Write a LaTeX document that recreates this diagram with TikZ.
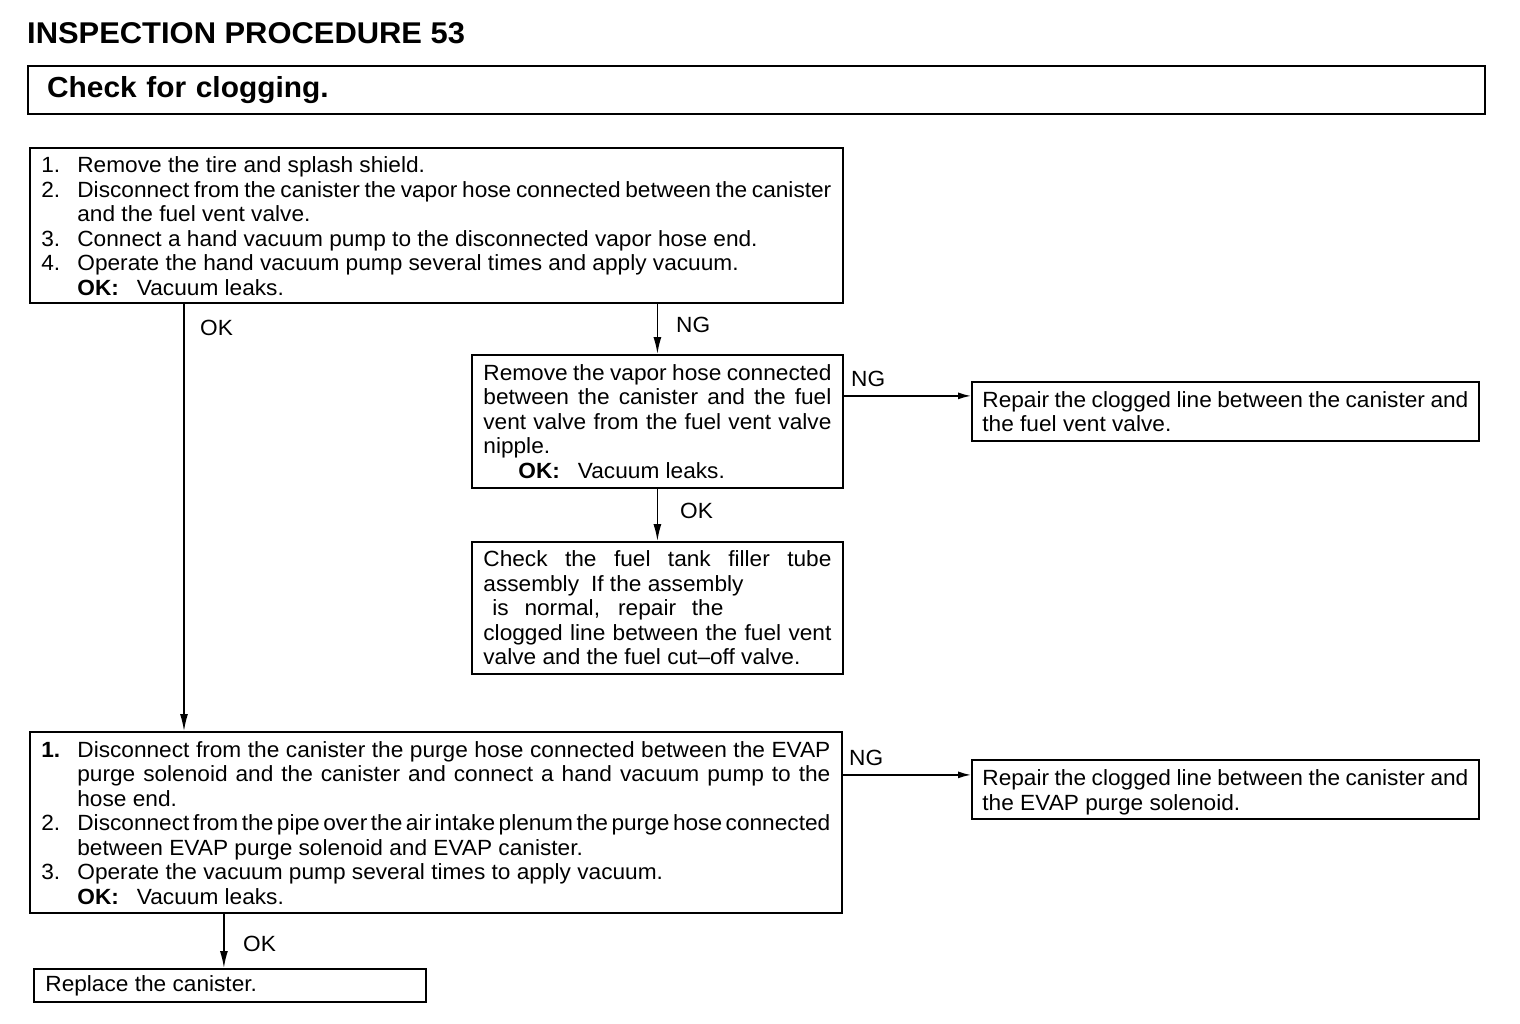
\documentclass[tikz,border=0pt]{standalone}
\usepackage{fontspec}
\setmainfont{Liberation Sans}[FakeStretch=1.03,WordSpace={1,1,1.6}]
\usetikzlibrary{arrows.meta,calc}
\newcommand\itm[2]{\par\noindent\hangindent=36pt\hangafter=1\makebox[36pt][l]{#1}#2\par}
\newcommand\nl{\hfil\break}
\begin{document}
\begin{tikzpicture}[x=1pt,y=-1pt,
  box/.style={draw,line width=1.8pt,anchor=north west,inner xsep=11.5pt,inner ysep=0pt,
    font=\fontsize{22}{24.5}\selectfont,align=justify,
    execute at begin node={\tolerance=10000\parindent=0pt}},
  lab/.style={anchor=west,inner sep=0pt,font=\fontsize{22}{24.5}\selectfont},
  varr/.style={line width=1.5pt,-{Latex[length=17pt,width=8pt]}},
  harr/.style={line width=1.5pt,-{Latex[length=13pt,width=7pt]}}]
\fill[white] (0,0) rectangle (1520,1024);
\useasboundingbox (0,0) rectangle (1520,1024);

\node[anchor=base west,inner sep=0pt,font=\fontsize{30}{36}\selectfont\bfseries] (title) at (27,44) {INSPECTION PROCEDURE 53};
\node[draw,line width=2.2pt,anchor=north west,minimum height=48pt,text width=1419pt,inner xsep=19pt,inner ysep=0pt,align=left,font=\fontsize{29}{34}\selectfont\bfseries] (hdr) at (27,65) {Check for clogging.};

\node[box,text width=790pt,minimum height=155pt] (b1) at (29,147) {%
\itm{1.}{Remove the tire and splash shield.}
\itm{2.}{Disconnect from the canister the vapor hose connected between the canister\break and the fuel vent valve.}
\itm{3.}{Connect a hand vacuum pump to the disconnected vapor hose end.}
\itm{4.}{Operate the hand vacuum pump several times and apply vacuum.\nl\textbf{OK:}\hspace{18pt}Vacuum leaks.\rule[-7pt]{0pt}{1pt}}};

\node[box,text width=348pt,minimum height=133pt] (b2) at (471,354) {%
\noindent Remove the vapor hose connected\break between the canister and the fuel\break vent valve from the fuel vent valve\break nipple.\nl\hspace*{35pt}\textbf{OK:}\hspace{18pt}Vacuum leaks.};

\node[box,text width=486pt,inner xsep=10.5pt,minimum height=59pt] (b3) at (971,381) {%
\noindent Repair the clogged line between the canister and\nl the fuel vent valve.};

\node[box,text width=348pt,minimum height=132pt] (b4) at (471,541) {%
\noindent Check the fuel tank filler tube\break assembly\hspace{12pt}If the assembly\nl\hspace*{9pt}\makebox[231pt][s]{is normal, repair the}\nl clogged line between the fuel vent\break valve and the fuel cut–off valve.};

\node[box,text width=789pt,minimum height=181pt] (b5) at (29,731) {%
\itm{\textbf{1.}}{Disconnect from the canister the purge hose connected between the EVAP\break purge solenoid and the canister and connect a hand vacuum pump to the\break hose end.}
\itm{2.}{Disconnect from the pipe over the air intake plenum the purge hose connected\break between EVAP purge solenoid and EVAP canister.}
\itm{3.}{Operate the vacuum pump several times to apply vacuum.\nl\textbf{OK:}\hspace{18pt}Vacuum leaks.\rule[-8pt]{0pt}{1pt}}};

\node[box,text width=486pt,inner xsep=10.5pt,minimum height=59pt] (b6) at (971,759) {%
\noindent\rule{0pt}{22pt}Repair the clogged line between the canister and\nl the EVAP purge solenoid.};

\node[box,text width=369pt,minimum height=33pt] (b7) at (33,968) {%
\noindent Replace the canister.};

\draw[varr] ([xshift=155pt]b1.south west) -- ([xshift=155pt]b5.north west);
\draw[varr] (b2.north |- b1.south) -- (b2.north);
\draw[varr] (b2.south) -- (b4.north);
\coordinate (n1) at ([yshift=15.5pt]b3.west);
\draw[harr] (b2.east |- n1) -- (n1);
\coordinate (n2) at ([yshift=14.5pt]b6.west);
\draw[harr] (b5.east |- n2) -- (n2);
\coordinate (n3) at ([xshift=-6pt]b7.north);
\draw[varr] (b5.south -| n3) -- (n3);

\node[lab] (l1) at (200,328) {OK};
\node[lab] (l2) at (676,325) {NG};
\node[lab] (l3) at (851,379) {NG};
\node[lab] (l4) at (680,511) {OK};
\node[lab] (l5) at (849,758) {NG};
\node[lab] (l6) at (243,944) {OK};
\end{tikzpicture}
\end{document}
